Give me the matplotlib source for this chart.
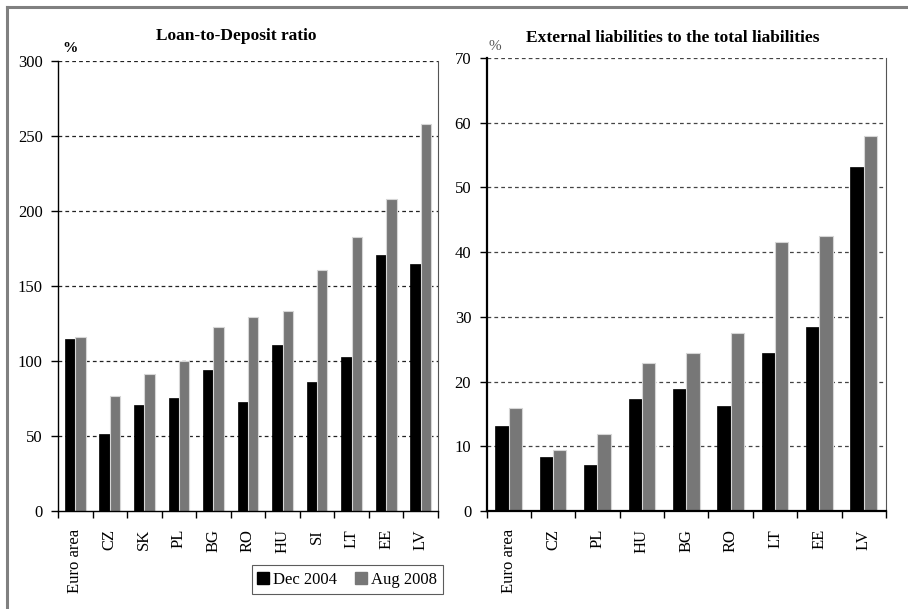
import numpy as np
import matplotlib
matplotlib.use("Agg")
import matplotlib.pyplot as plt
from matplotlib.lines import Line2D

plt.rcParams['font.family'] = ['Liberation Serif', 'DejaVu Serif']

# left panel: loan-to-deposit ratio
ltd_countries = ["Euro area", "CZ", "SK", "PL", "BG", "RO", "HU", "SI", "LT", "EE", "LV"]
ltd_dec2004 = [114.7, 51.3, 70.7, 75.5, 94.0, 72.4, 110.9, 86.0, 102.9, 170.4, 164.4]
ltd_aug2008 = [115.8, 76.9, 91.3, 99.8, 122.4, 129.3, 133.1, 160.7, 182.9, 208.2, 258.0]

# right panel: external liabilities to total liabilities
ext_countries = ["Euro area", "CZ", "PL", "HU", "BG", "RO", "LT", "EE", "LV"]
ext_dec2004 = [13.1, 8.4, 7.1, 17.3, 18.9, 16.3, 24.4, 28.4, 53.2]
ext_aug2008 = [15.9, 9.4, 11.85, 22.8, 24.4, 27.5, 41.5, 42.5, 57.9]

series_names = ["Dec 2004", "Aug 2008"]

BLACK = "#000000"
GREY = "#777777"
W, H = 908, 609


def draw_panel(ax, cats, dec, aug, ymax, ystep, width, spine_lw, grid_col):
    x = np.arange(len(cats))
    ax.bar(x - width / 2, dec, width, color=BLACK, edgecolor=BLACK, linewidth=0.5, zorder=3)
    ax.bar(x + width / 2, aug, width, color=GREY, edgecolor="#d6d6d6", linewidth=0.8, zorder=3)
    ax.set_xlim(-0.5, len(cats) - 0.5)
    ax.set_ylim(0, ymax)
    ax.set_yticks(np.arange(0, ymax + 1, ystep))
    for v in np.arange(ystep, ymax + 1, ystep):
        ax.axhline(v, color=grid_col, lw=0.9, ls=(0, (3, 2.5)), zorder=1)
    ax.set_xticks(x)
    ax.set_xticklabels(cats, rotation=90, fontsize=12, va="top")
    ax.set_xticks(np.arange(-0.5, len(cats), 1), minor=True)
    ax.tick_params(axis="x", which="major", length=0, pad=13)
    ax.tick_params(axis="x", which="minor", length=5, width=1, direction="out")
    ax.tick_params(axis="y", length=5, width=1, direction="out", labelsize=12, pad=6)
    ax.spines["top"].set_visible(False)
    ax.spines["left"].set_linewidth(spine_lw)
    ax.spines["bottom"].set_linewidth(spine_lw)
    ax.spines["right"].set_color("#555555")
    ax.spines["right"].set_linewidth(0.8)
    for s in ax.spines.values():
        s.set_zorder(5)


fig = plt.figure(figsize=(W / 100, H / 100), dpi=100)

ax1 = fig.add_axes([58 / W, 1 - 511 / H, 380 / W, 450 / H])
draw_panel(ax1, ltd_countries, ltd_dec2004, ltd_aug2008, 300, 50, 0.3, 1.0, "#222222")

ax2 = fig.add_axes([486.5 / W, 1 - 511 / H, 399.5 / W, 453 / H])
draw_panel(ax2, ext_countries, ext_dec2004, ext_aug2008, 70, 10, 0.3, 1.6, "#444444")

fig.text(236 / W, 1 - 36 / H, "Loan-to-Deposit ratio", ha="center", va="center",
         fontsize=12.5, fontweight="bold")
fig.text(70 / W, 1 - 48 / H, "%", ha="center", va="center", fontsize=11, fontweight="bold")
fig.text(673 / W, 1 - 38 / H, "External liabilities to the total liabilities", ha="center",
         va="center", fontsize=12.5, fontweight="bold")
fig.text(495 / W, 1 - 47 / H, "%", ha="center", va="center", fontsize=11, color="#555555")

# outer frame (top and left only)
fig.add_artist(Line2D([7 / W, 1], [1 - 7 / H, 1 - 7 / H], transform=fig.transFigure,
                      color="#808080", lw=2.2))
fig.add_artist(Line2D([7 / W, 7 / W], [0, 1 - 7 / H], transform=fig.transFigure,
                      color="#808080", lw=2.2))

handles = [Line2D([], [], marker="s", ls="", color=BLACK, markersize=9),
           Line2D([], [], marker="s", ls="", color=GREY, markersize=9)]
leg = fig.legend(handles, series_names, loc="center", bbox_to_anchor=(347.5 / W, 1 - 579.5 / H),
                 ncol=2, fontsize=12, frameon=True, fancybox=False, edgecolor="#333333",
                 handlelength=0.6, handletextpad=0.3, columnspacing=1.1, borderpad=0.4)
leg.get_frame().set_linewidth(0.8)

fig.savefig("out.png", dpi=100)
